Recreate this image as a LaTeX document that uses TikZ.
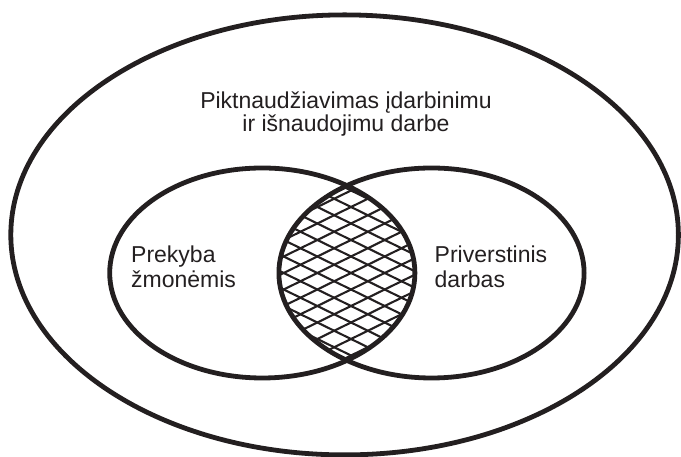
\documentclass[tikz,border=0pt]{standalone}
\usepackage{fontspec}
\setmainfont{Liberation Sans}
\usepackage{xcolor}
\usetikzlibrary{positioning}
\definecolor{figink}{RGB}{35,31,32}
\tikzset{
  setring/.style={draw=figink, line width=4.8pt},
  hatchline/.style={draw=figink, line width=2.1pt},
  setlabel/.style={font=\fontsize{23}{25}\selectfont, text=figink, inner sep=0pt, align=left},
  toplabel/.style={font=\fontsize{23}{23}\selectfont, text=figink, inner sep=0pt, align=center}
}

\begin{document}
\begin{tikzpicture}[x=1pt,y=1pt]
  \useasboundingbox (0,0) rectangle (681,457);

  % overlap of the two sets, cross-hatched
  \begin{scope}
    \clip (262.3,184) ellipse [x radius=152.6, y radius=105];
    \clip (431.5,184) ellipse [x radius=152.6, y radius=105];
    \foreach \k in {-20,...,20} {
      \draw[hatchline] (250,184+16.5*\k) -- ++(200,98);
      \draw[hatchline] (250,184+16.5*\k) -- ++(200,-98);
    }
  \end{scope}

  \draw[setring] (344.6,222.1) ellipse [x radius=333.8, y radius=220];
  \draw[setring] (262.3,184) ellipse [x radius=152.6, y radius=105];
  \draw[setring] (431.5,184) ellipse [x radius=152.6, y radius=105];

  \node[toplabel] (abuseLabel) at (346,343.4) {Piktnaudžiavimas įdarbinimu\\ir išnaudojimu darbe};
  \node[setlabel, anchor=west] (traffickingLabel) at (131,189.8) {Prekyba\\žmonėmis};
  \node[setlabel, anchor=west] (forcedLabel) at (434.5,190.6) {Priverstinis\\darbas};
\end{tikzpicture}
\end{document}
